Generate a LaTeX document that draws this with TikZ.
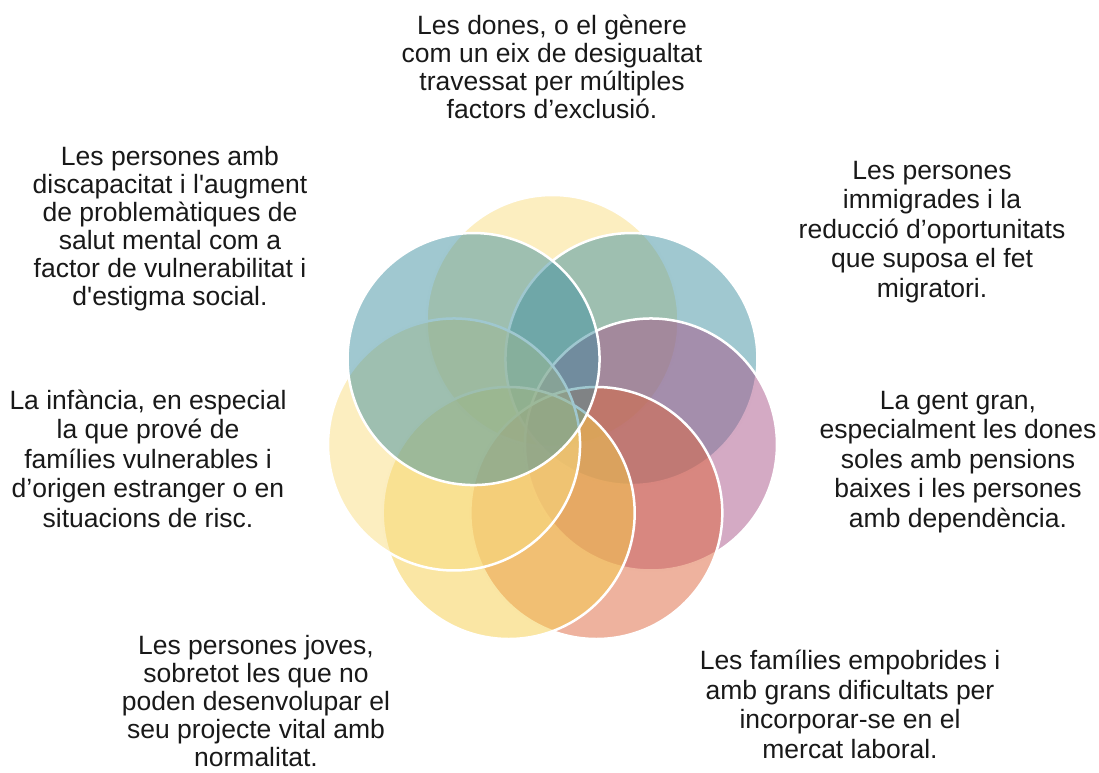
\documentclass[tikz,border=0pt]{standalone}
\usepackage{fontspec}
\setmainfont{Liberation Sans}[Ligatures=TeXOff]
\usetikzlibrary{calc}
\definecolor{cyel}{RGB}{249,221,129}
\definecolor{cteal}{RGB}{65,145,161}
\definecolor{cpurp}{RGB}{169,85,137}
\definecolor{cred}{RGB}{221,101,61}
\definecolor{cyel2}{RGB}{245,205,73}
\definecolor{txt}{RGB}{25,25,25}
\begin{document}
\begin{tikzpicture}[x=1pt,y=1pt,
  ring/.style={circle, minimum size=252pt, inner sep=0pt, outer sep=0pt, fill=#1, fill opacity=0.5, draw=white, draw opacity=1, line width=2.5pt},
  lbl/.style={align=center, anchor=base, text=txt, font=\fontsize{26.5}{28}\selectfont},
  lblw/.style={align=center, anchor=base, text=txt, font=\fontsize{26.5}{29.4}\selectfont}]
\useasboundingbox (0,0) rectangle (1099,-772);
\coordinate (ctr) at (552.5,-422);
\node[ring=cyel]  (c1) at ($(ctr)+(90:101)$) {};
\node[ring=cteal] (c2) at ($(ctr)+(38.571:101)$) {};
\node[ring=cpurp] (c3) at ($(ctr)+(-12.857:101)$) {};
\node[ring=cred]  (c4) at ($(ctr)+(-64.286:101)$) {};
\node[ring=cyel2] (c5) at ($(ctr)+(-115.714:101)$) {};
\node[ring=cyel]  (c6) at ($(ctr)+(-167.143:101)$) {};
\node[ring=cteal] (c7) at ($(ctr)+(141.429:101)$) {};
\node[lbl] (t1) at (552,-118) {Les dones, o el gènere\\com un eix de desigualtat\\travessat per múltiples\\factors d’exclusió.};
\node[lbl] (t7) at (170,-305) {Les persones amb\\discapacitat i l'augment\\de problemàtiques de\\salut mental com a\\factor de vulnerabilitat i\\d'estigma social.};
\node[lblw] (t2) at (932,-297) {Les persones\\immigrades i la\\reducció d’oportunitats\\que suposa el fet\\migratori.};
\node[lblw] (t3) at (958,-527) {La gent gran,\\especialment les dones\\soles amb pensions\\baixes i les persones\\amb dependència.};
\node[lblw] (t6) at (148,-527) {La infància, en especial\\la que prové de\\famílies vulnerables i\\d’origen estranger o en\\situacions de risc.};
\node[lbl] (t5) at (256,-766) {Les persones joves,\\sobretot les que no\\poden desenvolupar el\\seu projecte vital amb\\normalitat.};
\node[lblw] (t4) at (850,-758) {Les famílies empobrides i\\amb grans dificultats per\\incorporar-se en el\\mercat laboral.};
\end{tikzpicture}
\end{document}
